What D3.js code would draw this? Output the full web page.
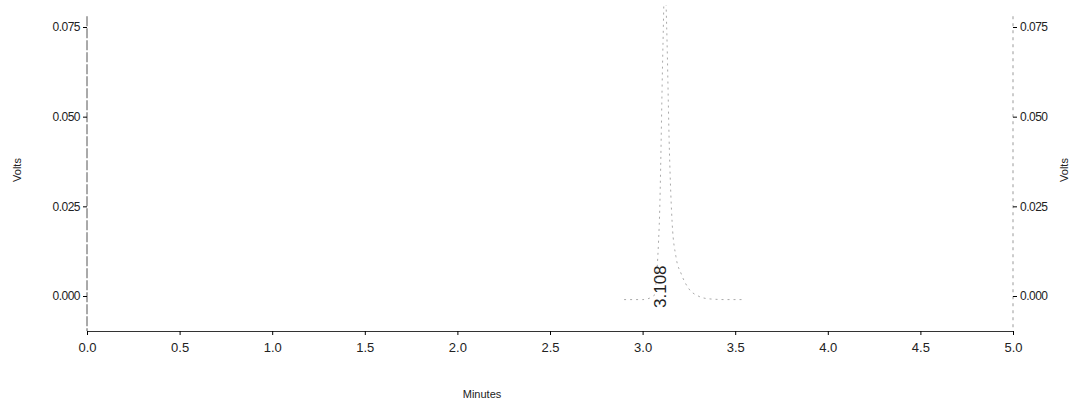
<!DOCTYPE html>
<html><head><meta charset="utf-8">
<script src="https://cdn.jsdelivr.net/npm/d3@7"></script>
<style>body{margin:0;background:#fff}text{font-family:"Liberation Sans",Arial,sans-serif;fill:#222}</style>
</head><body><svg id="c" width="1087" height="408"></svg>
<script>
var xTicks = [0, 0.5, 1, 1.5, 2, 2.5, 3, 3.5, 4, 4.5, 5];
var yTicks = [0, 0.025, 0.05, 0.075];
var traceTime = [2.9, 3.0, 3.06, 3.09, 3.11, 3.12, 3.13, 3.145, 3.16, 3.18, 3.21, 3.25, 3.3, 3.36, 3.45, 3.55];
var traceVolts = [-0.001, -0.001, 0.0, 0.02, 0.07, 0.09, 0.075, 0.04, 0.02, 0.011, 0.006, 0.002, 0.0, -0.0008, -0.001, -0.001];
var peakLabel = "3.108";

var svg = d3.select("#c");
var x = d3.scaleLinear().domain([0, 5]).range([87, 1013]);
var y = d3.scaleLinear().domain([0, 0.075]).range([296, 27]);

svg.append("defs").append("clipPath").attr("id", "clip")
  .append("rect").attr("x", 87).attr("y", 5).attr("width", 926).attr("height", 326);

var la = svg.append("g").attr("transform", "translate(87,0)")
  .call(d3.axisLeft(y).tickValues(yTicks).tickSize(4).tickFormat(d3.format(".3f")));
la.select(".domain").attr("d", "M0," + y(0.078) + "V331").attr("stroke", "#555").attr("stroke-dasharray", "10,2");
var ra = svg.append("g").attr("transform", "translate(1013,0)")
  .call(d3.axisRight(y).tickValues(yTicks).tickSize(4).tickFormat(d3.format(".3f")));
ra.select(".domain").attr("d", "M0," + y(0.078) + "V331").attr("stroke", "#999").attr("stroke-dasharray", "3,4");
svg.selectAll(".tick text").attr("font-size", 12).style("letter-spacing", "-0.5px");

var ba = svg.append("g").attr("transform", "translate(0,331)")
  .call(d3.axisBottom(x).tickValues(xTicks).tickSize(4).tickFormat(d3.format(".1f")));
ba.select(".domain").attr("stroke", "#333");
ba.selectAll("text").attr("font-size", 13).attr("dy", "1.1em");

svg.append("text").attr("x", 482).attr("y", 398).attr("text-anchor", "middle")
  .attr("font-size", 11).text("Minutes");
svg.append("text").attr("transform", "translate(21,170) rotate(-90)").attr("text-anchor", "middle")
  .attr("font-size", 11).text("Volts");
svg.append("text").attr("transform", "translate(1068,170) rotate(-90)").attr("text-anchor", "middle")
  .attr("font-size", 11).text("Volts");

var line = d3.line().x(function(d, i){ return x(traceTime[i]); }).y(function(d){ return y(d); })
  .curve(d3.curveMonotoneX);
svg.append("path").attr("clip-path", "url(#clip)").datum(traceVolts).attr("d", line)
  .attr("fill", "none").attr("stroke", "#aaa").attr("stroke-width", 1).attr("stroke-dasharray", "2,4");

svg.append("text").attr("transform", "translate(" + (x(3.108) + 3) + "," + (y(0) + 12) + ") rotate(-90)")
  .attr("font-size", 17).text(peakLabel);
</script></body></html>
